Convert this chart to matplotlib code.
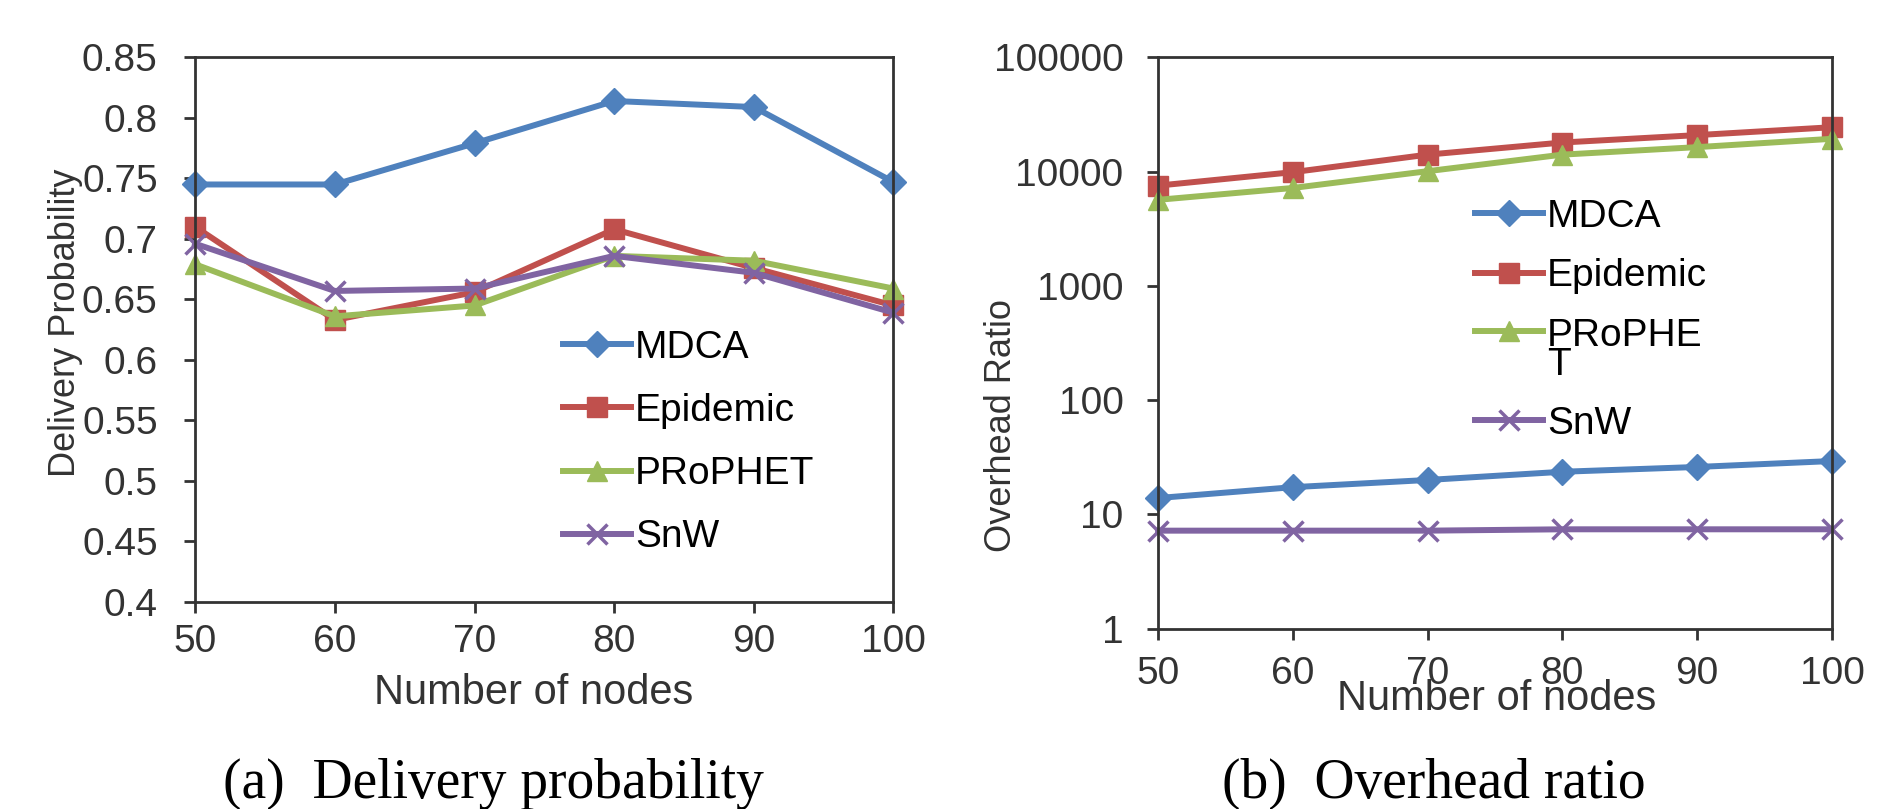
import matplotlib.pyplot as plt
import numpy as np
from matplotlib.ticker import FixedLocator, FixedFormatter

# Data
nodes = [50, 60, 70, 80, 90, 100]

deliv_mdca = [0.745, 0.745, 0.779, 0.814, 0.809, 0.747]
deliv_epidemic = [0.710, 0.633, 0.656, 0.708, 0.676, 0.645]
deliv_prophet = [0.679, 0.636, 0.645, 0.686, 0.682, 0.659]
deliv_snw = [0.696, 0.657, 0.659, 0.686, 0.672, 0.639]

over_mdca = [13.9, 17.3, 20.0, 23.6, 26.0, 29.3]
over_epidemic = [7550, 9900, 14100, 18000, 20900, 24500]
over_prophet = [5670, 7200, 10100, 14100, 16400, 19400]
over_snw = [7.2, 7.2, 7.2, 7.4, 7.4, 7.4]

y_ticks_left = [0.4, 0.45, 0.5, 0.55, 0.6, 0.65, 0.7, 0.75, 0.8, 0.85]
y_ticklabels_left = ['0.4', '0.45', '0.5', '0.55', '0.6', '0.65', '0.7', '0.75', '0.8', '0.85']
y_ticks_right = [1, 10, 100, 1000, 10000, 100000]
y_ticklabels_right = ['1', '10', '100', '1000', '10000', '100000']

BLUE = '#4F81BD'
RED = '#C0504D'
GREEN = '#9BBB59'
PURPLE = '#8064A2'
TXT = '#333333'

plt.rcParams['font.family'] = ['Liberation Sans', 'DejaVu Sans']
TICK_SIZE = 28
XLABEL_SIZE = 30
YLABEL_SIZE = 26
LEG_SIZE = 28

fig = plt.figure(figsize=[18.77, 8.09], dpi=100)
ax1 = fig.add_axes([0.104, 0.256, 0.372, 0.673])
ax2 = fig.add_axes([0.617, 0.223, 0.359, 0.706])

lw = 4.3
series = [
    ('MDCA', 'D', 13, BLUE),
    ('Epidemic', 's', 15, RED),
    ('PRoPHET', '^', 15, GREEN),
    ('SnW', 'x', 15, PURPLE),
]

leg_kw = dict(frameon=False, fontsize=LEG_SIZE, handlelength=1.75, handletextpad=0.1,
              borderaxespad=0, borderpad=0)

# ---------------- (a) delivery probability ----------------
left_vals = [deliv_mdca, deliv_epidemic, deliv_prophet, deliv_snw]
for (name, mk, ms, c), vals in zip(series, left_vals):
    ax1.plot(nodes, vals, marker=mk, markersize=ms, color=c, linewidth=lw,
             markeredgewidth=2.5 if mk == 'x' else 1, label=name, clip_on=False)

ax1.set_xlim(50, 100)
ax1.set_ylim(0.4, 0.85)
ax1.xaxis.set_ticks(nodes)
ax1.yaxis.set_major_locator(FixedLocator(y_ticks_left))
ax1.yaxis.set_major_formatter(FixedFormatter(y_ticklabels_left))
ax1.set_xlabel('Number of nodes', fontsize=XLABEL_SIZE, color=TXT)
ax1.set_ylabel('Delivery Probability', fontsize=YLABEL_SIZE, color=TXT)
ax1.xaxis.set_label_coords(0.484, -0.13)
ax1.yaxis.set_label_coords(-0.16, 0.512)
ax1.tick_params(axis='x', labelsize=TICK_SIZE, length=8, width=2, pad=8, colors=TXT)
ax1.tick_params(axis='y', labelsize=TICK_SIZE, length=8, width=2, pad=19, colors=TXT)
ax1.legend(loc='upper left', bbox_to_anchor=(0.527, 0.50), labelspacing=0.7, **leg_kw)

# ---------------- (b) overhead ratio ----------------
right_vals = [over_mdca, over_epidemic, over_prophet, over_snw]
right_names = ['MDCA', 'Epidemic', 'PRoPHE\nT', 'SnW']
for (name, mk, ms, c), vals, lab in zip(series, right_vals, right_names):
    ax2.plot(nodes, vals, marker=mk, markersize=ms, color=c, linewidth=lw,
             markeredgewidth=2.5 if mk == 'x' else 1, label=lab, clip_on=False)

ax2.set_yscale('log')
ax2.set_xlim(50, 100)
ax2.set_ylim(1, 100000)
ax2.xaxis.set_ticks(nodes)
ax2.yaxis.set_major_locator(FixedLocator(y_ticks_right))
ax2.yaxis.set_major_formatter(FixedFormatter(y_ticklabels_right))
ax2.yaxis.set_minor_locator(FixedLocator([]))
ax2.set_xlabel('Number of nodes', fontsize=XLABEL_SIZE, color=TXT)
ax2.set_ylabel('Overhead Ratio', fontsize=YLABEL_SIZE, color=TXT)
ax2.xaxis.set_label_coords(0.503, -0.088)
ax2.yaxis.set_label_coords(-0.206, 0.356)
ax2.tick_params(axis='x', labelsize=TICK_SIZE, length=8, width=2, pad=12, colors=TXT)
ax2.tick_params(axis='y', labelsize=TICK_SIZE, length=8, width=2, pad=17, colors=TXT)
leg2 = ax2.legend(loc='upper left', bbox_to_anchor=(0.47, 0.752), labelspacing=0.6, **leg_kw)
leg2.get_texts()[2].set_linespacing(0.75)
# put the handle level with the first line of the wrapped label, as in the original
try:
    for col in leg2._legend_handle_box.get_children():
        rows = col.get_children()
        rows[2].align = 'top'
except Exception:
    pass

for ax in (ax1, ax2):
    for sp in ax.spines.values():
        sp.set_linewidth(2)
        sp.set_color(TXT)

# sub-figure captions
fig.text(0.263, 0.031, '(a)  Delivery probability', family='Liberation Serif',
         fontsize=40, ha='center', va='center')
fig.text(0.764, 0.031, '(b)  Overhead ratio', family='Liberation Serif',
         fontsize=40, ha='center', va='center')

plt.savefig('out.png', dpi=100)
plt.close(fig)
